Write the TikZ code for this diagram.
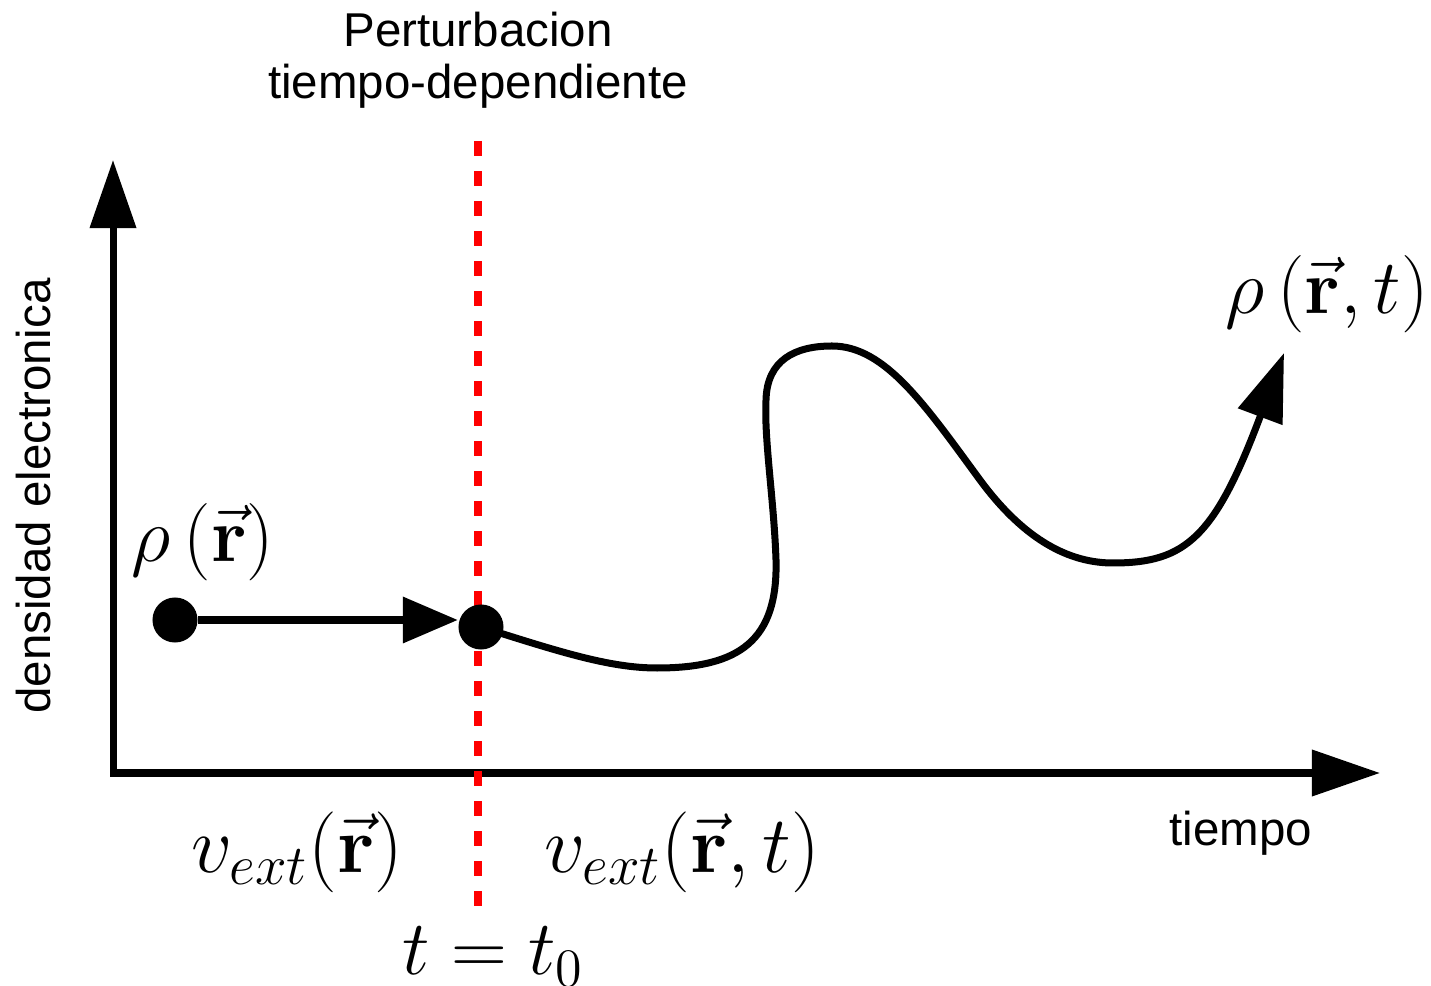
\RequirePackage{fix-cm}
\documentclass[tikz,border=0pt]{standalone}
\usepackage{amsmath}
\usepackage[no-math]{fontspec}
\setmainfont{Liberation Sans}
\usetikzlibrary{arrows.meta}

\begin{document}
\begin{tikzpicture}[
x=0.01cm,y=-0.01cm,
lbl/.style={font=\fontsize{13.5}{14.8}\selectfont,align=center,inner sep=0pt},
eq/.style={font=\fontsize{23}{26}\selectfont,inner sep=0pt},
eqbig/.style={font=\fontsize{22}{25}\selectfont,inner sep=0pt},
dot/.style={circle,fill=black,inner sep=0pt,minimum size=4.5mm},
axis/.style={line width=0.7mm,>={Triangle[length=6.8mm,width=4.5mm]},<->},
arr/.style={line width=0.7mm,-{Triangle[length=5.5mm,width=4.5mm]}},
curve/.style={line width=0.7mm,-{Triangle[length=6.8mm,width=4.6mm]}},
pert/.style={red,line width=0.8mm,dash pattern=on 1.5mm off 1.5mm}
]
\useasboundingbox (0,0) rectangle (1431,986);

% ejes
\coordinate (o) at (113,773);
\coordinate (ytop) at (113,160);
\coordinate (xend) at (1380,773);
\draw[axis] (ytop) -- (o) -- (xend);
\node[lbl,rotate=90] (ylabel) at (34,496) {densidad electronica};
\node[lbl] (xlabel) at (1241,833) {tiempo};

% perturbacion en t0
\coordinate (ptop) at (478,141);
\coordinate (pbot) at (478,908);
\draw[pert] (ptop) -- (pbot);
\node[lbl] (title) at (478,60) {Perturbacion\\tiempo-dependiente};

\node[dot] (rho0) at (175,620) {};
\node[dot] (t0) at (481,627) {};
\draw[arr] (rho0) -- (rho0 -| t0.west);

\coordinate (rhoend) at (1284,353);
\draw[curve] (t0.center) .. controls (560,652) and (610,668) .. (657,668)
  .. controls (740,668) and (778,640) .. (776,560)
  .. controls (774,500) and (764,440) .. (766,400)
  .. controls (767,360) and (795,346) .. (832,346)
  .. controls (885,346) and (925,405) .. (980,480)
  .. controls (1025,541) and (1070,563) .. (1113,563)
  .. controls (1186,563) and (1215,537) .. (rhoend);

\node[eqbig] (rhoR) at (203,542) {$\rho\left(\vec{\mathbf{r}}\right)$};
\node[eqbig] (rhoRt) at (1327,294) {$\rho\left(\vec{\mathbf{r}},t\right)$};
\node[eq] (vR) at (297,852) {$v_{ext}(\vec{\mathbf{r}})$};
\node[eq] (vRt) at (682,852) {$v_{ext}(\vec{\mathbf{r}},t)$};
\node[eqbig] (tzero) at (493,957) {$t=t_0$};
\end{tikzpicture}
\end{document}
